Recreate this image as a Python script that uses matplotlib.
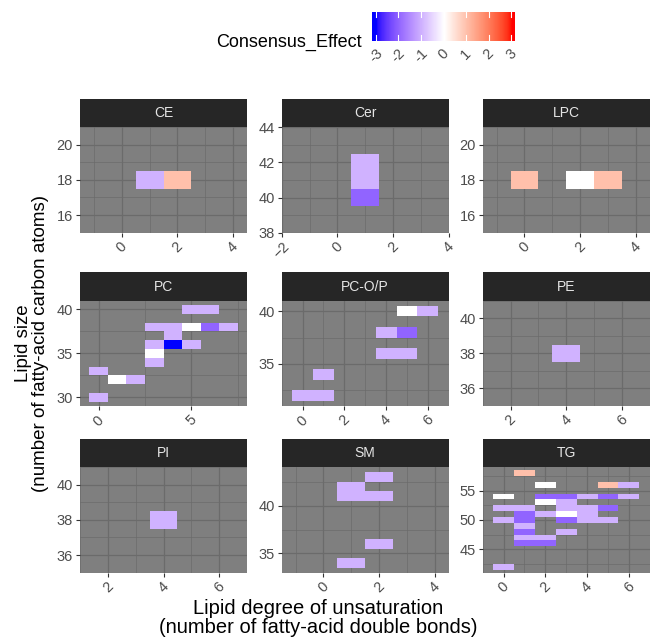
import numpy as np
import matplotlib
matplotlib.use("Agg")
import matplotlib.pyplot as plt
from matplotlib.colors import ListedColormap, Normalize

plt.rcParams['font.family'] = ['Liberation Sans', 'DejaVu Sans']

# data: x = double bonds, y = carbon atoms, eff = consensus effect
CE_db = [1, 2]
CE_c = [18, 18]
CE_eff = [-1, 1]

Cer_db = [1, 1, 1]
Cer_c = [40, 41, 42]
Cer_eff = [-2, -1, -1]

LPC_db = [0, 2, 3]
LPC_c = [18, 18, 18]
LPC_eff = [1, 0, 1]

PC_db = [0, 0, 1, 2, 3, 3, 3, 3, 4, 4, 4, 5, 5, 5, 6, 6, 7]
PC_c = [30, 33, 32, 32, 34, 35, 36, 38, 36, 37, 38, 36, 38, 40, 38, 40, 38]
PC_eff = [-1, -1, 0, -1, -1, 0, -1, -1, -3, -1, -1, -1, 0, -1, -2, -1, -1]

PCOP_db = [0, 1, 1, 4, 4, 5, 5, 5, 6]
PCOP_c = [32, 32, 34, 36, 38, 36, 38, 40, 40]
PCOP_eff = [-1, -1, -1, -1, -1, -1, -2, 0, -1]

PE_db = [4]
PE_c = [38]
PE_eff = [-1]

PI_db = [4]
PI_c = [38]
PI_eff = [-1]

SM_db = [1, 1, 1, 2, 2, 2]
SM_c = [34, 41, 42, 36, 41, 43]
SM_eff = [-1, -1, -1, -1, -1, -1]

TG_db = [0, 0, 0, 0, 0,
         1, 1, 1, 1, 1, 1, 1, 1, 1,
         2, 2, 2, 2, 2, 2,
         3, 3, 3, 3, 3, 3, 3,
         4, 4, 4, 4,
         5, 5, 5, 5,
         6, 6]
TG_c = [42, 50, 52, 54, 54,
        46, 47, 48, 49, 50, 51, 52, 58, 58,
        46, 47, 51, 53, 54, 56,
        48, 50, 51, 52, 53, 54, 54,
        50, 51, 52, 54,
        50, 52, 54, 56,
        54, 56]
TG_eff = [-1, -1, -1, 0, 0,
          -2, -1, -2, -1, -2, -2, -1, 1, 1,
          -2, -1, -1, 0, -2, 0,
          -1, -2, 0, -1, -1, -2, -2,
          -1, -1, -1, -1,
          -1, -2, -2, 1,
          -1, -1]

panels = [
    ("CE", CE_db, CE_c, CE_eff, [0, 2, 4], [16, 18, 20]),
    ("Cer", Cer_db, Cer_c, Cer_eff, [-2, 0, 2, 4], [38, 40, 42, 44]),
    ("LPC", LPC_db, LPC_c, LPC_eff, [0, 2, 4], [16, 18, 20]),
    ("PC", PC_db, PC_c, PC_eff, [0, 5], [30, 35, 40]),
    ("PC-O/P", PCOP_db, PCOP_c, PCOP_eff, [0, 2, 4, 6], [35, 40]),
    ("PE", PE_db, PE_c, PE_eff, [2, 4, 6], [36, 38, 40]),
    ("PI", PI_db, PI_c, PI_eff, [2, 4, 6], [36, 38, 40]),
    ("SM", SM_db, SM_c, SM_eff, [0, 2, 4], [35, 40]),
    ("TG", TG_db, TG_c, TG_eff, [0, 2, 4, 6], [45, 50, 55]),
]
legend_ticks = [-3, -2, -1, 0, 1, 2, 3]


# blue - white - red gradient, interpolated in Lab like ggplot
M = np.array([[0.4124, 0.3576, 0.1805],
              [0.2126, 0.7152, 0.0722],
              [0.0193, 0.1192, 0.9505]])
WHITE = np.array([0.95047, 1.0, 1.08883])


def rgb2lab(rgb):
    rgb = np.asarray(rgb, float)
    lin = np.where(rgb <= 0.04045, rgb / 12.92, ((rgb + 0.055) / 1.055) ** 2.4)
    xyz = lin @ M.T / WHITE
    f = np.where(xyz > 0.008856, np.cbrt(xyz), 7.787 * xyz + 16 / 116)
    return np.stack([116 * f[..., 1] - 16, 500 * (f[..., 0] - f[..., 1]),
                     200 * (f[..., 1] - f[..., 2])], axis=-1)


def lab2rgb(lab):
    fy = (lab[..., 0] + 16) / 116
    f = np.stack([fy + lab[..., 1] / 500, fy, fy - lab[..., 2] / 200], axis=-1)
    xyz = np.where(f ** 3 > 0.008856, f ** 3, (f - 16 / 116) / 7.787) * WHITE
    lin = np.clip(xyz @ np.linalg.inv(M).T, 0, None)
    rgb = np.where(lin <= 0.0031308, 12.92 * lin, 1.055 * lin ** (1 / 2.4) - 0.055)
    return np.clip(rgb, 0, 1)


lab_lo, lab_mid, lab_hi = rgb2lab([0, 0, 1]), rgb2lab([1, 1, 1]), rgb2lab([1, 0, 0])
t = np.linspace(0, 1, 128)[:, None]
cols = np.vstack([lab2rgb(lab_lo + (lab_mid - lab_lo) * t),
                  lab2rgb(lab_mid + (lab_hi - lab_mid) * t)])
cmap = ListedColormap(cols)
norm = Normalize(-3, 3)

W, H = 652, 640
fig = plt.figure(figsize=(W / 100, H / 100), dpi=100)


def px_axes(x0, y0, x1, y1):
    return fig.add_axes([x0 / W, 1 - y1 / H, (x1 - x0) / W, (y1 - y0) / H])


col_left = [80, 281.7, 482.7]
panel_w = 167
row_top = [127.3, 300.7, 467.3]
panel_h = 105.3
strip_h = 28.3

for i, (name, xs, ys, eff, xt, yt) in enumerate(panels):
    r, c = divmod(i, 3)
    x0, y0 = col_left[c], row_top[r]
    ax = px_axes(x0, y0, x0 + panel_w, y0 + panel_h)
    ax.set_facecolor("#7F7F7F")
    xs, ys = np.array(xs), np.array(ys)
    ax.bar(xs, 1, width=1, bottom=ys - 0.5, color=cmap(norm(np.array(eff))),
           linewidth=0, zorder=3)
    # free scales: tiles + 0.5, at least 6 units wide
    xlo, xhi = xs.min() - 1, xs.max() + 1
    if xhi - xlo < 6:
        m = (xlo + xhi) / 2
        xlo, xhi = m - 3, m + 3
    ylo, yhi = ys.min() - 1, ys.max() + 1
    if yhi - ylo < 6:
        m = (ylo + yhi) / 2
        ylo, yhi = m - 3, m + 3
    ax.set_xticks(xt)
    ax.set_yticks(yt)
    dx = (xt[1] - xt[0]) / 2
    dy = (yt[1] - yt[0]) / 2
    ax.set_xticks(np.arange(xt[0] - 4 * dx, xt[-1] + 4 * dx, 2 * dx) + dx, minor=True)
    ax.set_yticks(np.arange(yt[0] - 4 * dy, yt[-1] + 4 * dy, 2 * dy) + dy, minor=True)
    ax.set_xlim(xlo, xhi)
    ax.set_ylim(ylo, yhi)
    ax.grid(True, which="major", color="#6B6B6B", linewidth=0.9, zorder=1)
    ax.grid(True, which="minor", color="#6B6B6B", linewidth=0.5, zorder=1)
    ax.set_axisbelow(True)
    for s in ax.spines.values():
        s.set_visible(False)
    ax.tick_params(which="minor", length=0)
    ax.tick_params(which="major", length=3, width=0.8, color="#333333",
                   labelcolor="#4D4D4D", labelsize=10.5, pad=2)
    for lab in ax.get_xticklabels():
        lab.set_rotation(45)
        lab.set_ha("center")
        lab.set_va("top")
    sax = px_axes(x0, y0 - strip_h, x0 + panel_w, y0)
    sax.set_facecolor("#262626")
    sax.set_xticks([])
    sax.set_yticks([])
    for s in sax.spines.values():
        s.set_visible(False)
    sax.text(0.5, 0.5, name, color="#E5E5E5", fontsize=10, ha="center",
             va="center", transform=sax.transAxes)

# legend colorbar
lax = px_axes(371.7, 11.7, 514, 40.7)
grad = np.linspace(-3.18, 3.12, 300)
lax.imshow(grad[None, :], aspect="auto", cmap=cmap, norm=norm,
           extent=[-3.18, 3.12, 0, 1])
lax.set_xlim(-3.18, 3.12)
lax.set_ylim(0, 1)
for v in legend_ticks:
    lax.plot([v, v], [0.82, 1], color="white", linewidth=0.8)
    lax.plot([v, v], [0, 0.18], color="white", linewidth=0.8)
lax.set_yticks([])
lax.set_xticks(legend_ticks)
lax.set_xticklabels([str(v) for v in legend_ticks], rotation=45, ha="center",
                    va="top", fontsize=10.5, color="#4D4D4D")
lax.tick_params(axis="x", length=0, pad=4)
for s in lax.spines.values():
    s.set_visible(False)
fig.text(362 / W, 1 - 42 / H, "Consensus_Effect", ha="right", va="center",
         fontsize=13)

fig.text(318 / W, 1 - 618 / H,
         "Lipid degree of unsaturation\n(number of fatty-acid double bonds)",
         ha="center", va="center", fontsize=14.5, linespacing=1.0)
fig.text(32 / W, 1 - 343 / H,
         "Lipid size\n(number of fatty-acid carbon atoms)",
         ha="center", va="center", fontsize=13.5, rotation=90, linespacing=1.0)

fig.savefig("out.png", dpi=100)
